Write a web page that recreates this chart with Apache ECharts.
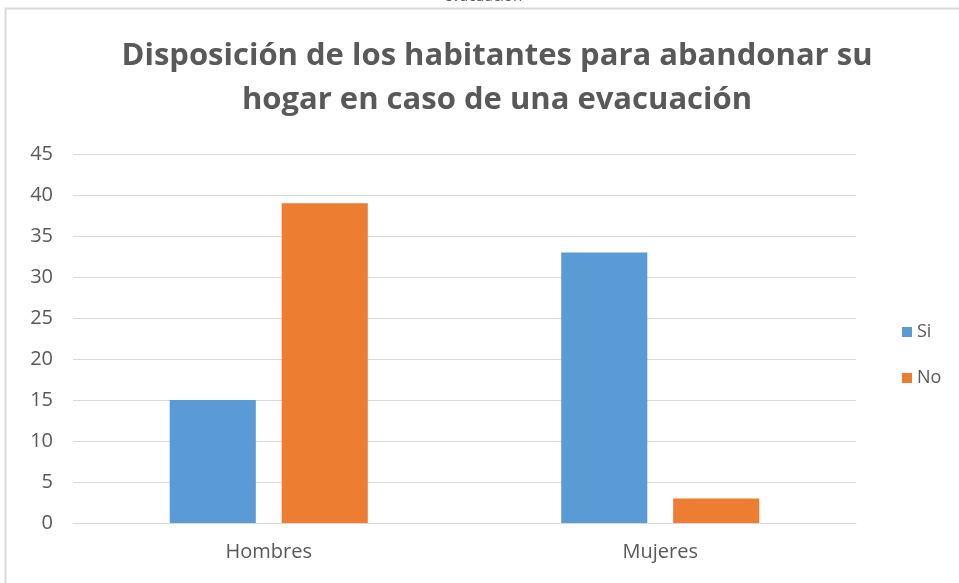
<!DOCTYPE html>
<html><head><meta charset="utf-8">
<script src="https://cdn.jsdelivr.net/npm/echarts@6/dist/echarts.min.js"></script>
<style>html,body{margin:0;padding:0;background:#fff;}#c{width:959px;height:583px;}</style>
</head><body><div id="c"></div>
<script>
const categories = ['Hombres', 'Mujeres'];
const seriesNames = ['Si', 'No'];
const siValues = [15, 33];
const noValues = [39, 3];
const yTicks = {min: 0, max: 45, interval: 5};

const chart = echarts.init(document.getElementById('c'));
const txt = '#595959';
const font = "'Open Sans', sans-serif";
chart.setOption({
  animation: false,
  backgroundColor: '#fff',
  graphic: [
    {type: 'rect', shape: {x: 5.5, y: 8.5, width: 1000, height: 700}, style: {fill: 'none', stroke: '#d9d9d9', lineWidth: 2}},
    {type: 'text', x: 483, y: -11, style: {text: 'evacuación', fill: txt, font: "15px 'Open Sans'", textAlign: 'center'}}
  ],
  title: {
    text: 'Disposición de los habitantes para abandonar su\nhogar en caso de una evacuación',
    left: 492, textAlign: 'center', top: 29,
    textStyle: {color: txt, fontSize: 31, fontWeight: 'bold', fontFamily: font, lineHeight: 44}
  },
  legend: {
    orient: 'vertical', left: 897, top: 318, itemWidth: 10, itemHeight: 10, itemGap: 28,
    icon: 'rect',
    textStyle: {color: txt, fontSize: 18, fontFamily: font},
    data: seriesNames
  },
  grid: {left: 73, right: 103, top: 154, bottom: 60, containLabel: false},
  xAxis: {
    type: 'category', data: categories,
    axisLine: {lineStyle: {color: '#d9d9d9'}}, axisTick: {show: false},
    axisLabel: {color: txt, fontSize: 20, fontFamily: font, margin: 19}
  },
  yAxis: {
    type: 'value', min: yTicks.min, max: yTicks.max, interval: yTicks.interval,
    axisLine: {show: false}, axisTick: {show: false},
    axisLabel: {color: txt, fontSize: 20, fontFamily: font, margin: 20},
    splitLine: {lineStyle: {color: '#d9d9d9', width: 1}}
  },
  series: [
    {name: seriesNames[0], type: 'bar', data: siValues, barWidth: '22%', barGap: '30%', itemStyle: {color: '#5b9bd5'}},
    {name: seriesNames[1], type: 'bar', data: noValues, barWidth: '22%', barGap: '30%', itemStyle: {color: '#ed7d31'}}
  ]
});
</script></body></html>
